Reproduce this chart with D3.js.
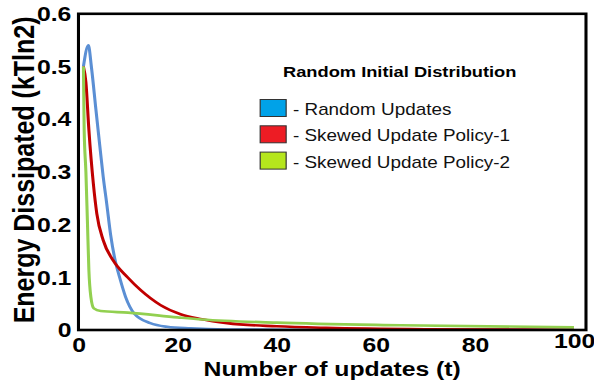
<!DOCTYPE html>
<html>
<head>
<meta charset="utf-8">
<script src="https://cdn.jsdelivr.net/npm/d3@7"></script>
<style>
  body { margin: 0; background: #fff; }
  text { font-family: Arial, "Liberation Sans", sans-serif; }
</style>
</head>
<body>
<div id="chart"></div>
<script>
// values
const tRandom = [1, 2, 2.6, 3.5, 4.3, 5, 5.7, 6.5, 7.5, 8.3, 9.5, 11.2, 14.5, 17.9, 22.6, 30, 45, 70, 100];
const eRandom = [0.50, 0.54, 0.50, 0.42, 0.35, 0.29, 0.240, 0.180, 0.128, 0.100, 0.063, 0.032, 0.013, 0.006, 0.003, 0.001, 0.0005, 0.0002, 0.0001];

const tSkewed1 = [1, 1.5, 2.1, 3.0, 3.7, 5, 7, 9.9, 12.5, 16.6, 20.6, 24.6, 30, 40, 50, 70, 100];
const eSkewed1 = [0.50, 0.47, 0.38, 0.278, 0.221, 0.170, 0.132, 0.100, 0.076, 0.047, 0.030, 0.021, 0.013, 0.007, 0.004, 0.0015, 0.0005];

const tSkewed2 = [1, 1.15, 1.5, 1.8, 2.1, 2.5, 3.1, 4.5, 10, 20, 25, 40, 65, 100];
const eSkewed2 = [0.50, 0.38, 0.30, 0.208, 0.114, 0.063, 0.041, 0.036, 0.033, 0.024, 0.020, 0.014, 0.009, 0.005];

const seriesNames = ['- Random Updates', '- Skewed Update Policy-1', '- Skewed Update Policy-2'];
const lineColors = ['#5b8fd4', '#c00000', '#92d050'];
const swatchColors = ['#00a2e8', '#ed1c24', '#b5e61d'];

const xTicks = [0, 20, 40, 60, 80, 100];
const yTicks = [0, 0.1, 0.2, 0.3, 0.4, 0.5, 0.6];
const yTickLabels = ['0', '0.1', '0.2', '0.3', '0.4', '0.5', '0.6'];

const legendTitle = 'Random Initial Distribution';
const xTitle = 'Number of updates (t)';
const yTitle = 'Energy Dissipated (kTln2)';

// the original is stretched horizontally, so draw in a narrower frame and scale it
const stretch = 1.18;
const width = 594, height = 383;
const plot = { left: 66.5, right: 496.6, top: 13.8, bottom: 330 };

const x = d3.scaleLinear()
    .domain([0, 100])
    .range([plot.left, 486.4]);

const y = d3.scaleLinear()
    .domain([0, 0.6])
    .range([plot.bottom, plot.top]);

const svg = d3.select('#chart')
    .append('svg')
    .attr('width', width)
    .attr('height', height);

const g = svg.append('g').attr('transform', `scale(${stretch},1)`);

g.append('clipPath')
    .attr('id', 'plot-clip')
    .append('rect')
    .attr('x', plot.left)
    .attr('y', plot.top)
    .attr('width', plot.right - plot.left)
    .attr('height', plot.bottom - plot.top);

const series = [
    { t: tRandom, e: eRandom },
    { t: tSkewed1, e: eSkewed1 },
    { t: tSkewed2, e: eSkewed2 }
];

const line = d3.line()
    .curve(d3.curveMonotoneX)
    .x((d) => x(d[0]))
    .y((d) => y(d[1]));

g.append('g')
    .attr('clip-path', 'url(#plot-clip)')
    .selectAll('path')
    .data(series)
    .join('path')
    .attr('fill', 'none')
    .attr('stroke', (d, i) => lineColors[i])
    .attr('stroke-width', 2.6)
    .attr('stroke-linejoin', 'round')
    .attr('d', (d) => line(d.t.map((t, i) => [t, d.e[i]])));

// frame
g.append('rect')
    .attr('x', plot.left)
    .attr('y', plot.top)
    .attr('width', plot.right - plot.left)
    .attr('height', plot.bottom - plot.top)
    .attr('fill', 'none')
    .attr('stroke', '#000')
    .attr('stroke-width', 2.6);

// axes
g.append('g')
    .attr('transform', `translate(0,${plot.bottom})`)
    .call(d3.axisBottom(x).tickValues(xTicks).tickSize(0).tickPadding(7))
    .call((a) => a.select('.domain').remove())
    .call((a) => a.selectAll('text')
        .attr('fill', '#000')
        .attr('font-size', 21)
        .attr('font-weight', 'bold')
        .attr('font-family', 'Arial, "Liberation Sans", sans-serif'));

g.append('g')
    .attr('transform', `translate(${plot.left},0)`)
    .call(d3.axisLeft(y).tickValues(yTicks).tickFormat((d, i) => yTickLabels[i]).tickSize(0).tickPadding(6))
    .call((a) => a.select('.domain').remove())
    .call((a) => a.selectAll('text')
        .attr('fill', '#000')
        .attr('font-size', 21)
        .attr('font-weight', 'bold')
        .attr('font-family', 'Arial, "Liberation Sans", sans-serif'));

g.select('.tick:last-of-type text').attr('dy', '0.5em');

// axis titles
g.append('text')
    .attr('x', (plot.left + plot.right) / 2)
    .attr('y', 376)
    .attr('text-anchor', 'middle')
    .attr('font-size', 21)
    .attr('font-weight', 'bold')
    .text(xTitle);

g.append('text')
    .attr('transform', `translate(28.5,${(plot.top + plot.bottom) / 2 - 2}) rotate(-90)`)
    .attr('text-anchor', 'middle')
    .attr('font-size', 25)
    .attr('font-weight', 'bold')
    .text(yTitle);

// legend
const legend = g.append('g');

legend.append('text')
    .attr('x', 239.8)
    .attr('y', 77)
    .attr('font-size', 15.5)
    .attr('font-weight', 'bold')
    .text(legendTitle);

const rows = legend.selectAll('g.row')
    .data(seriesNames)
    .join('g')
    .attr('class', 'row')
    .attr('transform', (d, i) => `translate(0,${99.5 + i * 26.3})`);

rows.append('rect')
    .attr('x', 220.5)
    .attr('y', 0)
    .attr('width', 22)
    .attr('height', 17)
    .attr('fill', (d, i) => swatchColors[i])
    .attr('stroke', '#333')
    .attr('stroke-width', 1);

rows.append('text')
    .attr('x', 248.3)
    .attr('y', 15.5)
    .attr('font-size', 16)
    .attr('fill', '#111')
    .text((d) => d);
</script>
</body>
</html>
